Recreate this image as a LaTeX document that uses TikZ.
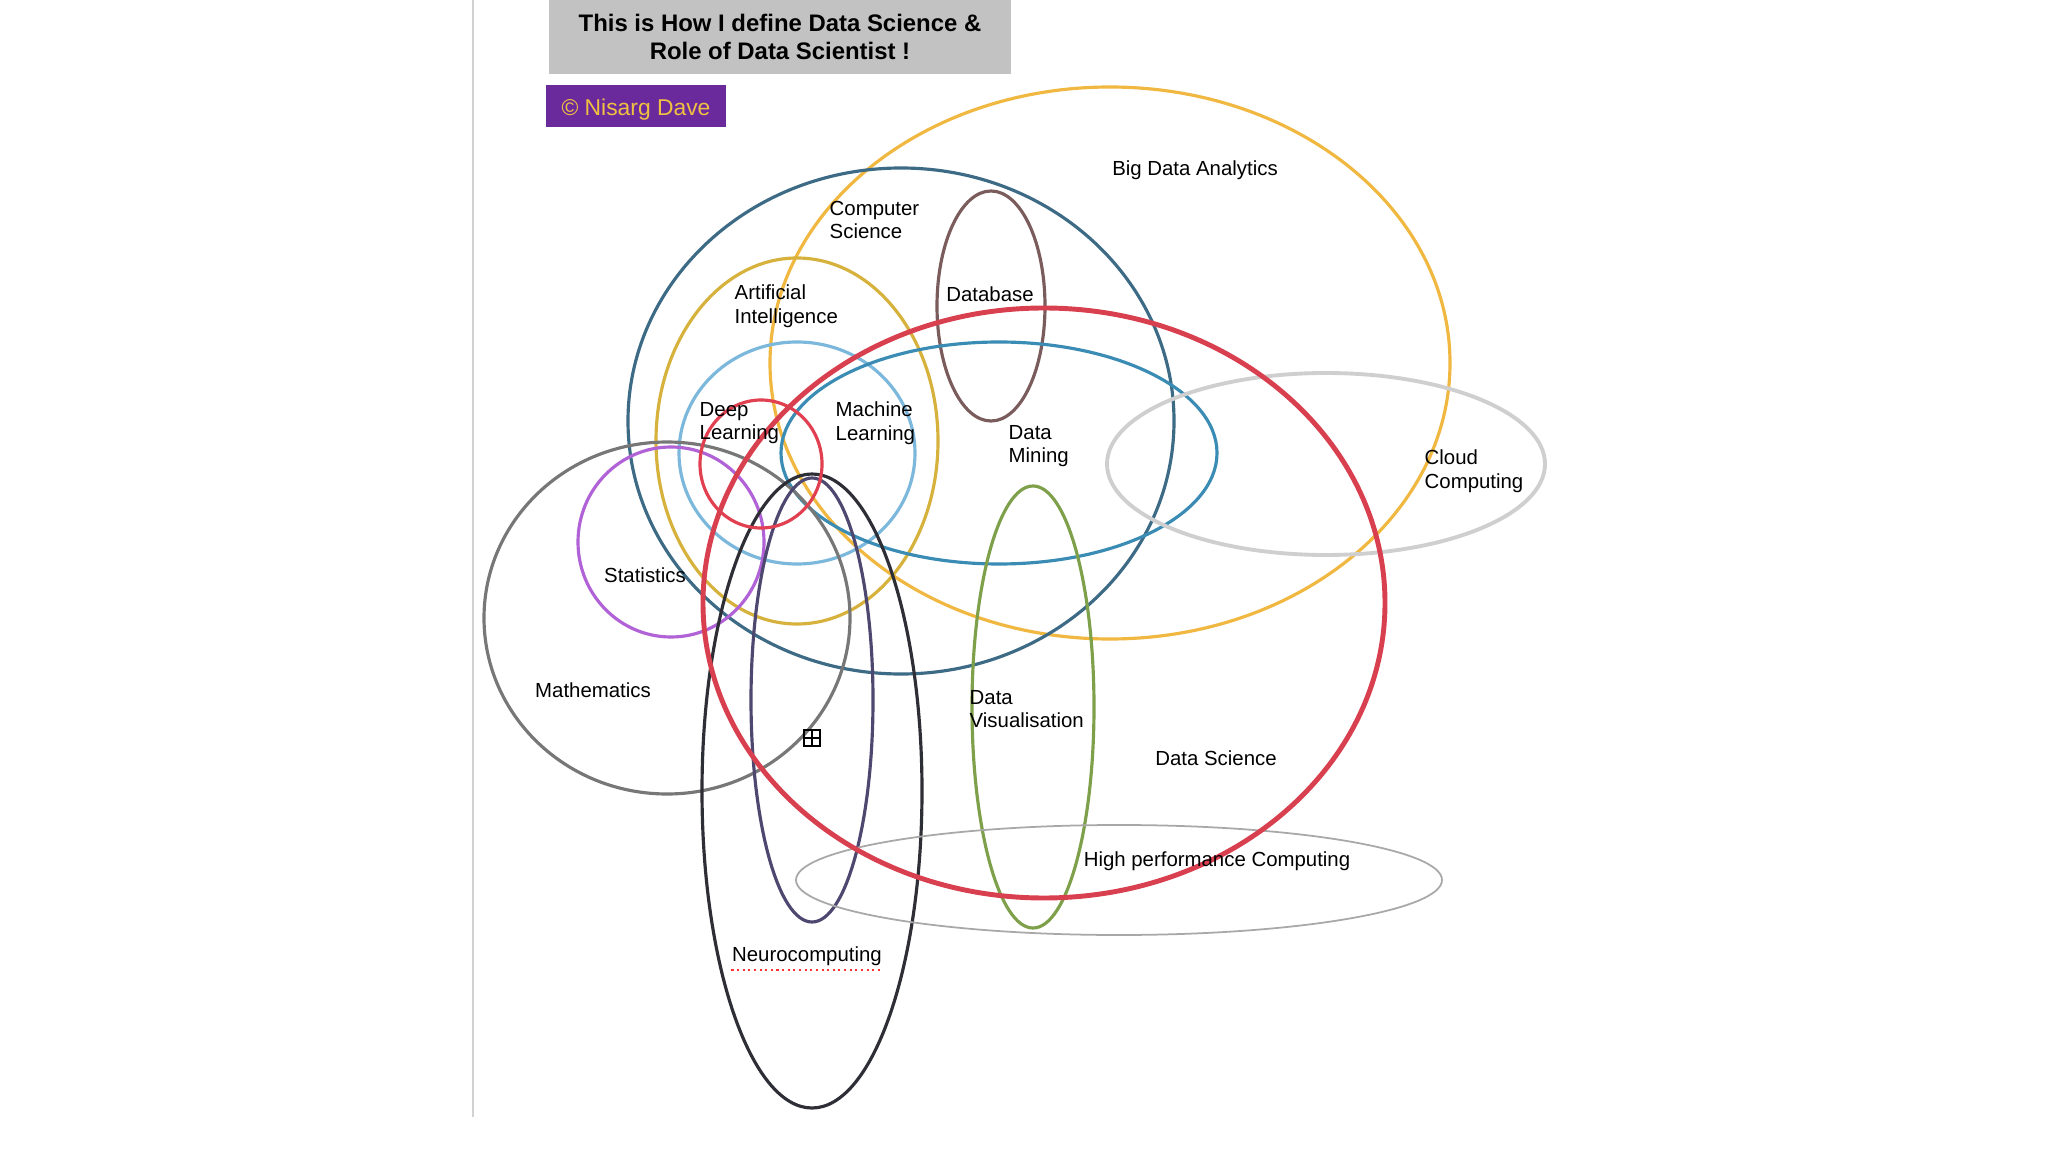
\documentclass[tikz,border=0pt]{standalone}
\usepackage{fontspec}
\setmainfont{Liberation Sans}
\usetikzlibrary{positioning}

\definecolor{bdacol}{HTML}{F0B840}
\definecolor{cscol}{HTML}{3D6B85}
\definecolor{aicol}{HTML}{D6B23C}
\definecolor{mlcol}{HTML}{7BB8DC}
\definecolor{dlcol}{HTML}{E0404F}
\definecolor{dbcol}{HTML}{7A5C5C}
\definecolor{dscol}{HTML}{D9404F}
\definecolor{dmcol}{HTML}{3A8CB4}
\definecolor{cccol}{HTML}{CFCFCF}
\definecolor{mathcol}{HTML}{777777}
\definecolor{statcol}{HTML}{B062D6}
\definecolor{neurocol}{HTML}{2E2E36}
\definecolor{innercol}{HTML}{4E4870}
\definecolor{dvcol}{HTML}{7FA04A}
\definecolor{hpccol}{HTML}{A8A8A8}
\definecolor{titlegray}{HTML}{C2C2C2}
\definecolor{tagpurple}{HTML}{6B2A9C}
\definecolor{taggold}{HTML}{F0C040}

\begin{document}
\begin{tikzpicture}[
  x=0.01cm, y=-0.01cm,
  ring/.style={line width=0.9pt},
  lbl/.style={font=\fontsize{5.8}{6.7}\selectfont, align=left, inner sep=0pt},
  titlebox/.style={fill=titlegray, align=center, minimum width=4.61cm, minimum height=0.74cm,
    font=\fontsize{6.8}{8.2}\selectfont\bfseries},
  tagbox/.style={fill=tagpurple, text=taggold, minimum width=1.8cm, minimum height=0.41cm,
    inner sep=0pt, text height=5.5pt, text depth=0pt, font=\fontsize{6.5}{7.5}\selectfont}
]
\fill[white] (0,0) rectangle (2048,1152);
\useasboundingbox (0,0) rectangle (2048,1152);
\draw[gray!35, line width=0.4pt] (473,0) -- (473,1117);

% header
\node[titlebox] (title) at (780,37) {This is How I define Data Science \&\\Role of Data Scientist !};
\node[tagbox] (tag) at (636,106) {© Nisarg Dave};

% fields
\draw[ring, bdacol] (1110,363) ellipse (340 and 276);
\draw[ring, cscol] (901,421) ellipse (273 and 253);
\draw[ring, aicol] (797,441) ellipse (141 and 183);
\draw[ring, mlcol] (797,453) ellipse (118 and 111);
\draw[ring, dbcol] (991,306) ellipse (54 and 115);
\draw[ring, dmcol] (999,453) ellipse (218 and 111);
\draw[ring, cccol, line width=1.1pt] (1326,464) ellipse (219 and 91);
\draw[ring, mathcol] (667,618) ellipse (183 and 176);
\draw[ring, statcol] (671,542) ellipse (93 and 95);
\draw[ring, innercol] (812,700) ellipse (61 and 222);
\draw[ring, neurocol] (812,791) ellipse (110 and 317);
\draw[ring, dvcol] (1033,707) ellipse (61 and 221);
\draw[hpccol, line width=0.5pt] (1119,880) ellipse (323 and 55);
\draw[ring, dlcol] (761,464) ellipse (61 and 64);
\draw[dscol, line width=1.4pt] (1044,603) ellipse (341 and 295);

% labels
\node[lbl] (bda) at (1195,170) {Big Data Analytics};
\node[lbl, anchor=west] (cs) at (829,220) {Computer\\Science};
\node[lbl, anchor=west] (ai) at (734,306) {Artificial\\Intelligence};
\node[lbl] (db) at (990,294) {Database};
\node[lbl, anchor=west] (dl) at (699,423) {Deep\\Learning};
\node[lbl, anchor=west] (ml) at (835,423) {Machine\\Learning};
\node[lbl, anchor=west] (dm) at (1008,446) {Data\\Mining};
\node[lbl, anchor=west] (cc) at (1424,471) {Cloud\\Computing};
\node[lbl] (stat) at (645,575) {Statistics};
\node[lbl] (math) at (593,690) {Mathematics};
\node[lbl, anchor=west] (dv) at (969,709) {Data\\Visualisation};
\node[lbl] (ds) at (1216,758) {Data Science};
\node[lbl] (hpc) at (1217,861) {High performance Computing};
\node[lbl] (neuro) at (807,956) {Neurocomputing};
\draw[red!80, densely dotted, line width=0.6pt] ([yshift=-1.2pt]neuro.south west) -- ([yshift=-1.2pt]neuro.south east);

% handle
\node[draw, line width=0.5pt, minimum size=0.16cm, inner sep=0pt] (grip) at (812,738) {};
\draw[line width=0.5pt] (grip.north) -- (grip.south) (grip.west) -- (grip.east);
\end{tikzpicture}
\end{document}
